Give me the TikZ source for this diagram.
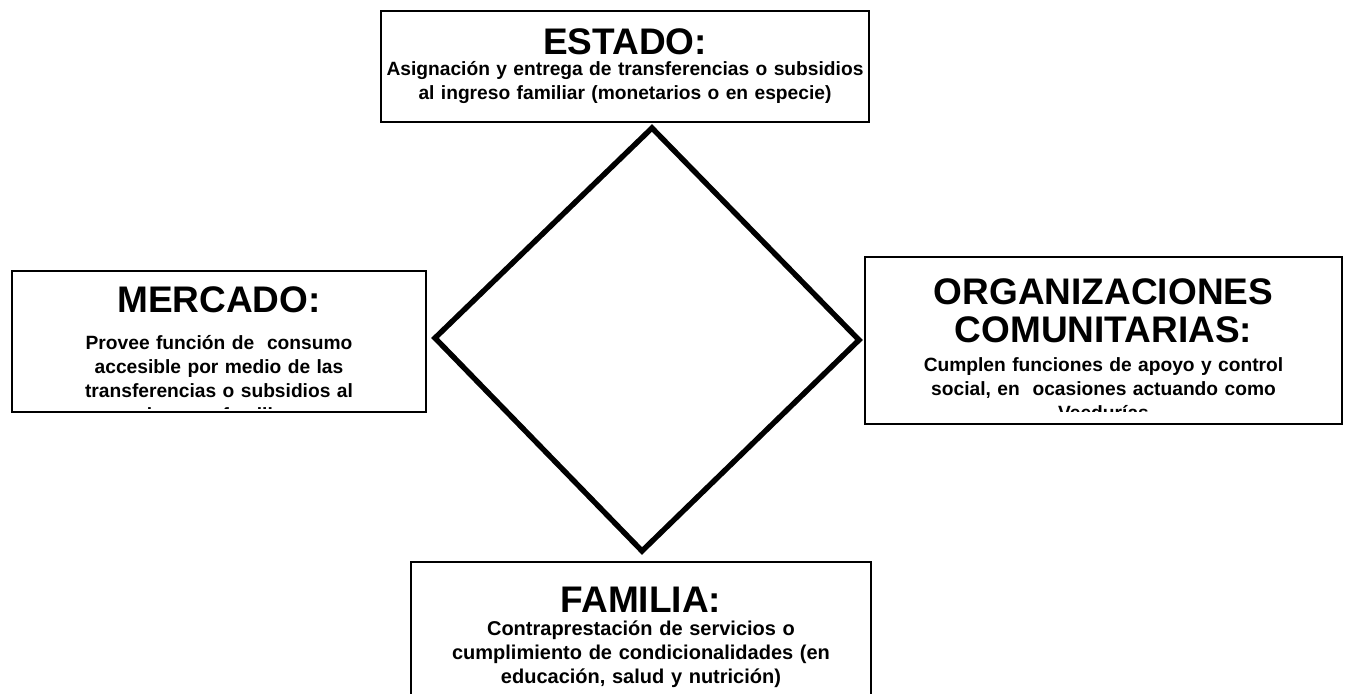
\documentclass[tikz,border=0pt]{standalone}
\usepackage{fontspec}
\setmainfont{Liberation Sans}
\usetikzlibrary{positioning}

\begin{document}
\begin{tikzpicture}[x=0.5pt, y=-0.5pt,
    caja/.style={draw, line width=0.8pt, inner sep=0pt},
    titulo/.style={font=\fontsize{18.5}{19}\selectfont\bfseries, inner sep=0pt, anchor=base, align=center, text width=#1},
    titulo/.default=230pt,
    cuerpo/.style={font=\fontsize{9.6}{12}\selectfont\bfseries, inner sep=0pt, anchor=base, align=center, text width=#1}]

    \useasboundingbox (0,0) rectangle (1346,694);

    % rombo central
    \coordinate (dN) at (652,128);
    \coordinate (dE) at (859,340);
    \coordinate (dS) at (642,551);
    \coordinate (dW) at (435,338);
    \draw[line width=2.7pt, line join=miter] (dN) -- (dE) -- (dS) -- (dW) -- cycle;

    % cajas
    \node[caja, minimum width=244pt, minimum height=55.5pt] (estado) at (625,66.5) {};
    \node[caja, minimum width=207pt, minimum height=70.5pt] (mercado) at (219,341.5) {};
    \node[caja, minimum width=238.5pt, minimum height=83.5pt] (organiz) at (1103.5,340.5) {};
    \node[caja, minimum width=230pt, minimum height=69pt] (familia) at (641,631) {};

    % ESTADO
    \node[titulo] (estadoT) at (625,55) {ESTADO:};
    \node[cuerpo=240pt] (estadoC) at (625,76) {Asignación y entrega de transferencias o subsidios\\al ingreso familiar (monetarios o en especie)};

    % MERCADO
    \node[titulo=200pt] (mercadoT) at (219,313) {MERCADO:};
    \begin{scope}
        \clip (12,271) rectangle (426,409);
        \node[cuerpo=200pt] (mercadoC) at (219,350) {Provee función de \ consumo\\accesible por medio de las\\transferencias o subsidios al\\ingreso familiar};
    \end{scope}

    % ORGANIZACIONES
    \node[titulo=235pt] (organizT) at (1103.5,305) {ORGANIZACIONES\\COMUNITARIAS:};
    \begin{scope}
        \clip (865,257) rectangle (1342,412);
        \node[cuerpo=235pt] (organizC) at (1103.5,372) {Cumplen funciones de apoyo y control\\social, en \ ocasiones actuando como\\Veedurías};
    \end{scope}

    % FAMILIA
    \node[titulo] (familiaT) at (641,613) {FAMILIA:};
    \node[cuerpo=225pt, font=\fontsize{10}{12}\selectfont\bfseries] (familiaC) at (641,636) {Contraprestación de servicios o\\cumplimiento de condicionalidades (en\\educación, salud y nutrición)};

\end{tikzpicture}
\end{document}
